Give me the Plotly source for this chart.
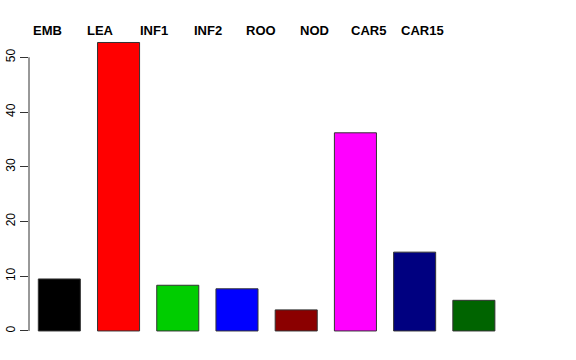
import plotly.graph_objects as go

categories = ["EMB", "LEA", "INF1", "INF2", "ROO", "NOD", "CAR5", "CAR15"]
values = [9.5, 52.7, 8.35, 7.7, 3.85, 36.2, 14.4, 5.6]
colors = ["#000000", "#FF0000", "#00CD00", "#0000FF", "#8B0000", "#FF00FF", "#000080", "#006400"]
yticks = [0, 10, 20, 30, 40, 50]

idx = list(range(len(categories)))
fig = go.Figure()
fig.add_trace(go.Bar(
    x=idx, y=values, marker=dict(color=colors, line=dict(color="#333333", width=1)),
    width=0.71, showlegend=False, hoverinfo="skip",
))

for i, c in enumerate(categories):
    fig.add_annotation(x=-0.208 + 0.905 * i, y=1.0, xref="x", yref="paper",
                       yshift=-9, text="<b>%s</b>" % c, showarrow=False,
                       font=dict(family="Liberation Sans, Arial", size=13, color="#000000"),
                       xanchor="center", yanchor="bottom")

fig.add_shape(type="line", xref="paper", yref="y", x0=0, x1=0, y0=yticks[0], y1=yticks[-1],
              line=dict(color="#333333", width=1))

fig.update_layout(
    width=576, height=360,
    margin=dict(l=29, r=56, t=31, b=17, autoexpand=False),
    paper_bgcolor="white", plot_bgcolor="white",
    xaxis=dict(range=[-0.512, 7.779], showgrid=False, zeroline=False, showline=False,
               showticklabels=False, ticks="", automargin=False),
    yaxis=dict(range=[-2.2, 54.8], showgrid=False, zeroline=False, showline=False,
               tickmode="array", tickvals=yticks, ticks="outside", ticklen=8,
               tickcolor="#333333", tickwidth=1, tickangle=-90, automargin=False,
               tickfont=dict(family="Liberation Sans, Arial", size=12, color="#000000")),
)

fig.write_html("out.html")
